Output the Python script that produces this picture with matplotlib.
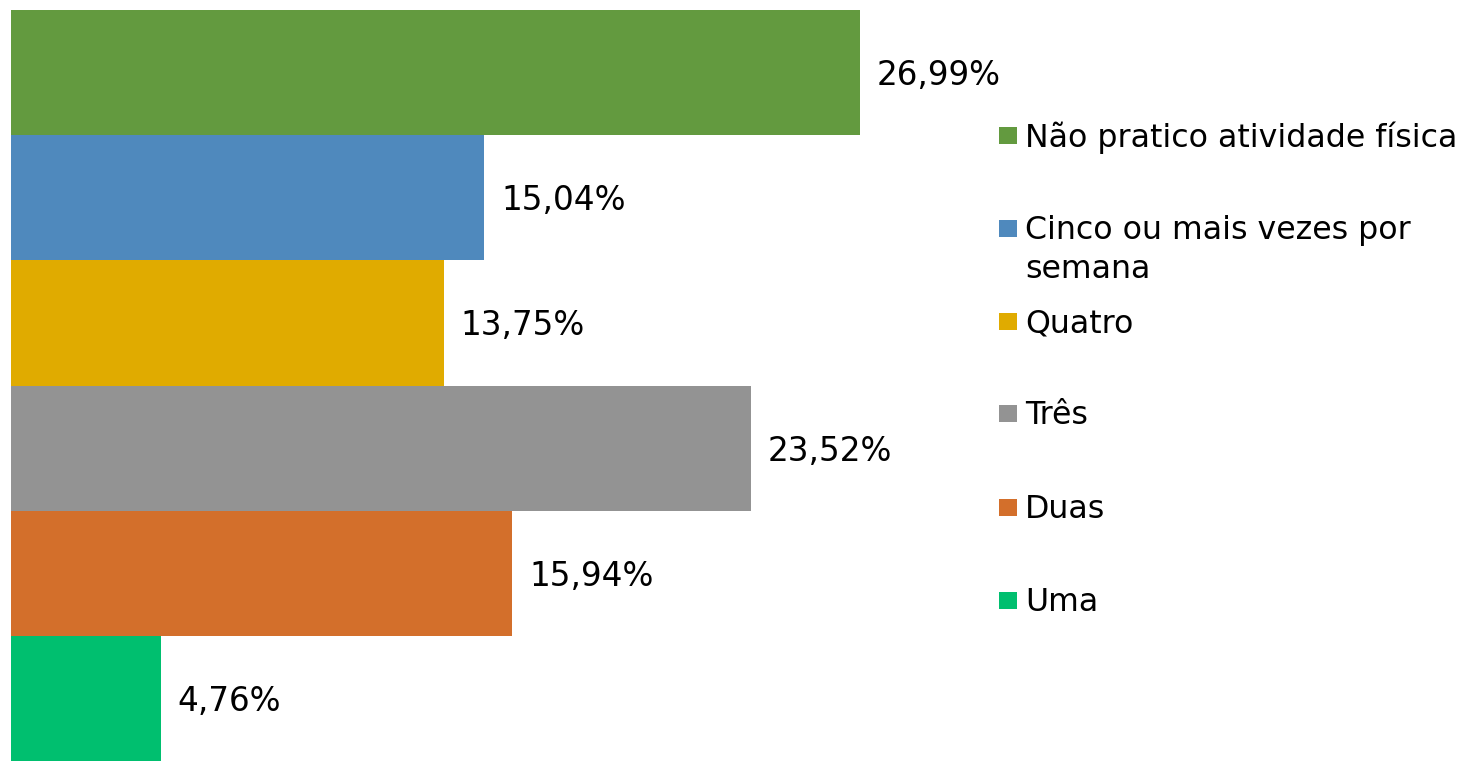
import matplotlib
matplotlib.use("Agg")
import matplotlib.pyplot as plt
from matplotlib.patches import Rectangle

categories = ["Não pratico atividade física", "Cinco ou mais vezes por\nsemana",
              "Quatro", "Três", "Duas", "Uma"]
values = [26.99, 15.04, 13.75, 23.52, 15.94, 4.76]
labels = ["26,99%", "15,04%", "13,75%", "23,52%", "15,94%", "4,76%"]
colors = ["#639A3F", "#4F89BD", "#E0AB00", "#939393", "#D36F2B", "#00BF6F"]

W, H = 1463, 761
fig = plt.figure(figsize=(W / 100, H / 100), dpi=100)
plt.rcParams['font.family'] = ['DejaVu Sans']

left_px, top_px, right_px = 11, 10, 1000
px_per_unit = (860 - 11) / 26.99
ax = fig.add_axes([left_px / W, 0, (right_px - left_px) / W, (H - top_px) / H])
ax.barh(range(len(values)), values, height=1.0, color=colors, linewidth=0)
ax.set_ylim(len(values) - 0.5, -0.5)
ax.set_xlim(0, (right_px - left_px) / px_per_unit)
ax.axis('off')

for i, (v, lab) in enumerate(zip(values, labels)):
    ax.annotate(lab, (v, i), xytext=(17, -3), textcoords='offset pixels',
                va='center', ha='left', fontsize=23.5, color='black',
                annotation_clip=False)

# legend
leg_y = [135.5, 228.5, 321.5, 413.5, 507, 600]
line_px = 38.5
for y, c, t in zip(leg_y, colors, categories):
    fig.patches.append(Rectangle((999 / W, 1 - (y + 8.5) / H), 18 / W, 17 / H,
                                 transform=fig.transFigure, facecolor=c,
                                 edgecolor='none'))
    n_extra = t.count("\n")
    fig.text(1025 / W, 1 - (y + 11 + n_extra * line_px) / H, t,
             ha='left', va='baseline', fontsize=22.8, color='black',
             linespacing=1.34)

fig.savefig("out.png", dpi=100)
